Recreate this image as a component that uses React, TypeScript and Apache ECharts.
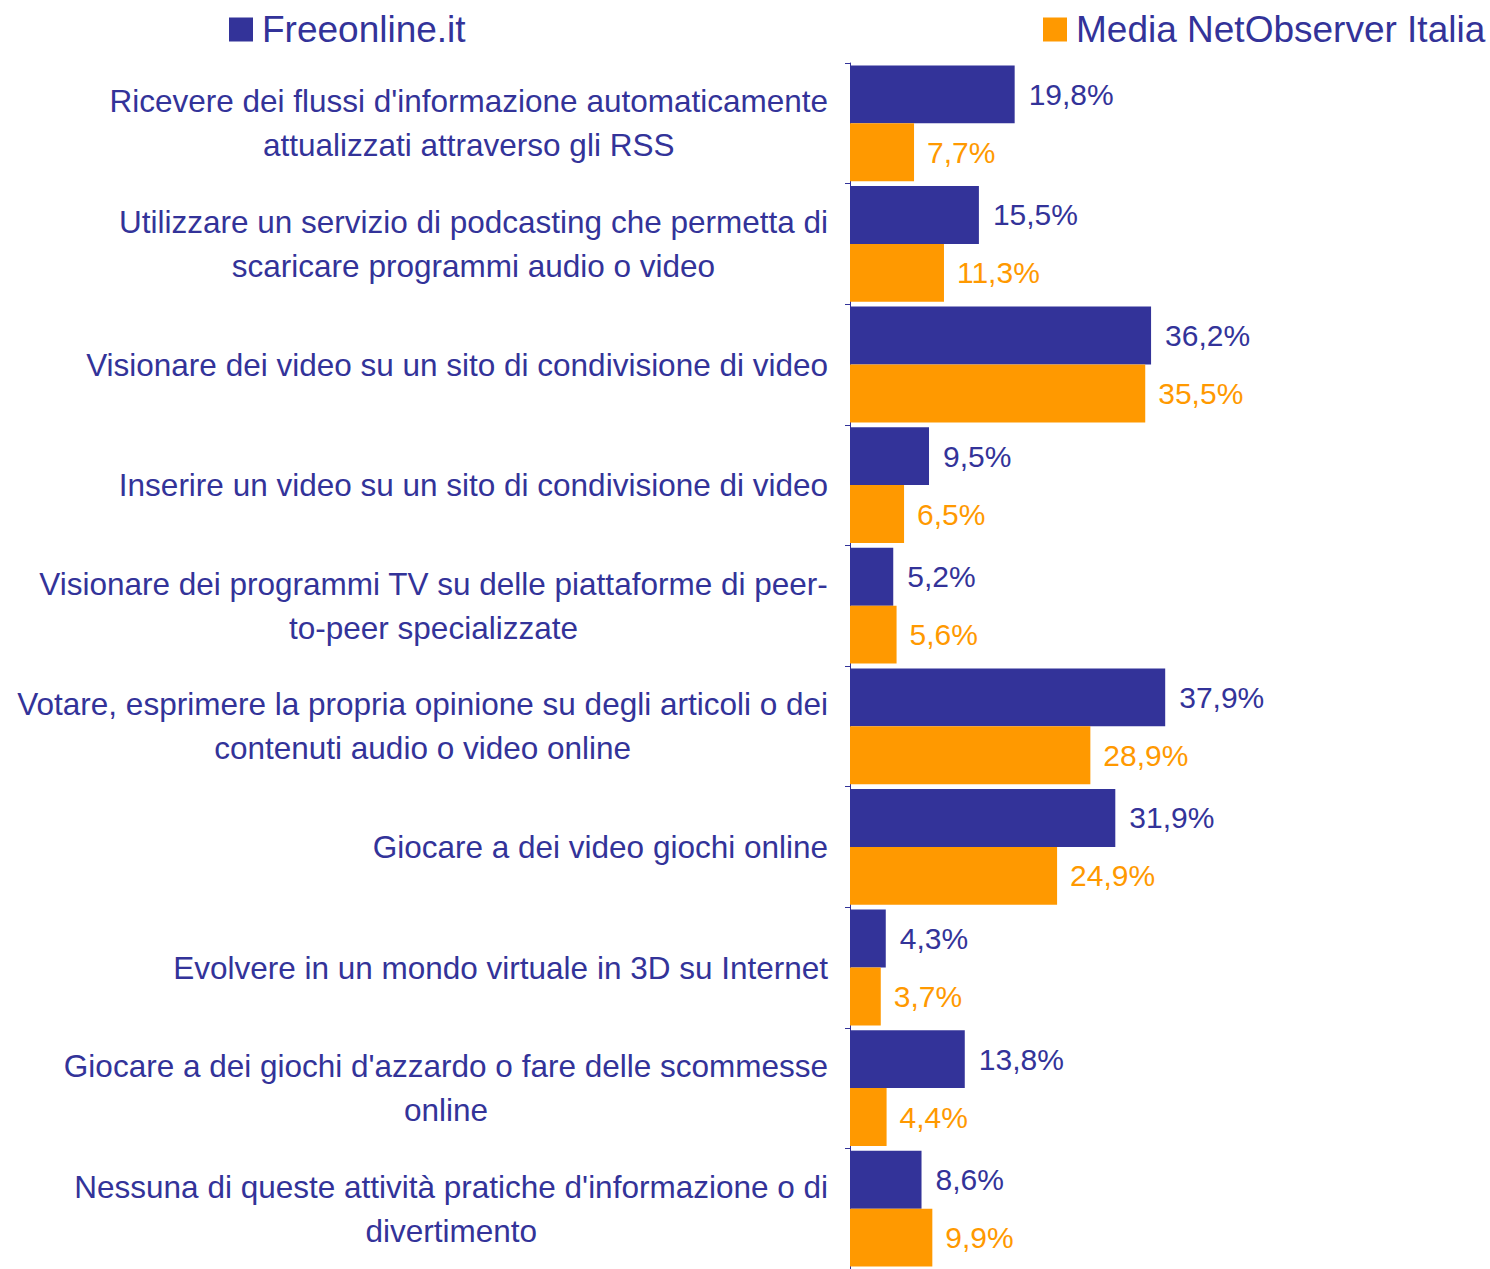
import React, { useEffect, useRef } from "react";
import * as echarts from "echarts";

const categories = [
  "Ricevere dei flussi d'informazione automaticamente\nattualizzati attraverso gli RSS",
  "Utilizzare un servizio di podcasting che permetta di\nscaricare programmi audio o video",
  "Visionare dei video su un sito di condivisione di video",
  "Inserire un video su un sito di condivisione di video",
  "Visionare dei programmi TV su delle piattaforme di peer-\nto-peer specializzate",
  "Votare, esprimere la propria opinione su degli articoli o dei\ncontenuti audio o video online",
  "Giocare a dei video giochi online",
  "Evolvere in un mondo virtuale in 3D su Internet",
  "Giocare a dei giochi d'azzardo o fare delle scommesse\nonline",
  "Nessuna di queste attività pratiche d'informazione o di\ndivertimento",
];

const seriesNames = ["Freeonline.it", "Media NetObserver Italia"];
const freeonline = [19.8, 15.5, 36.2, 9.5, 5.2, 37.9, 31.9, 4.3, 13.8, 8.6];
const netObserver = [7.7, 11.3, 35.5, 6.5, 5.6, 28.9, 24.9, 3.7, 4.4, 9.9];

const BLUE = "#333399";
const ORANGE = "#FF9900";
const FONT = "'Liberation Sans', Arial, sans-serif";

const fmt = (v: number) => v.toFixed(1).replace(".", ",") + "%";

export default function App() {
  const ref = useRef<HTMLDivElement>(null);
  useEffect(() => {
    if (!ref.current) return;
    const chart = echarts.init(ref.current, undefined, { renderer: "svg" });
    const legendText = { color: BLUE, fontSize: 37, fontFamily: FONT, padding: [0, 0, 0, 4] };
    chart.setOption({
      animation: false,
      backgroundColor: "#ffffff",
      textStyle: { fontFamily: FONT },
      legend: [
        {
          data: [seriesNames[0]],
          left: 229,
          top: 11,
          padding: 0,
          itemWidth: 24,
          itemHeight: 24,
          icon: "rect",
          textStyle: legendText,
        },
        {
          data: [seriesNames[1]],
          left: 1043,
          top: 11,
          padding: 0,
          itemWidth: 24,
          itemHeight: 24,
          icon: "rect",
          textStyle: legendText,
        },
      ],
      grid: { left: 850, top: 63, width: 499, height: 1208, containLabel: false },
      xAxis: {
        type: "value",
        min: 0,
        max: 60,
        show: false,
        splitLine: { show: false },
      },
      yAxis: {
        type: "category",
        data: categories,
        inverse: true,
        axisLine: { show: true, lineStyle: { color: BLUE, width: 1 } },
        axisTick: { show: true, length: 5, lineStyle: { color: BLUE } },
        axisLabel: {
          margin: 22,
          formatter: (v: string) =>
            v
              .split("\n")
              .map((l) => "{c|" + l + "}")
              .join("\n"),
          rich: {
            c: {
              align: "center",
              fontSize: 31.5,
              lineHeight: 44,
              color: BLUE,
              fontFamily: FONT,
            },
          },
        },
      },
      series: [
        {
          name: seriesNames[0],
          type: "bar",
          data: freeonline,
          barGap: "0%",
          barCategoryGap: "4%",
          itemStyle: { color: BLUE },
          label: {
            show: true,
            position: "right",
            distance: 14,
            color: BLUE,
            fontSize: 30,
            fontFamily: FONT,
            formatter: (p: any) => fmt(p.value),
          },
        },
        {
          name: seriesNames[1],
          type: "bar",
          data: netObserver,
          barGap: "0%",
          barCategoryGap: "4%",
          itemStyle: { color: ORANGE },
          label: {
            show: true,
            position: "right",
            distance: 13,
            color: ORANGE,
            fontSize: 30,
            fontFamily: FONT,
            formatter: (p: any) => fmt(p.value),
          },
        },
      ],
    });
    return () => chart.dispose();
  }, []);
  return (
    <div
      ref={ref}
      style={{ position: "absolute", left: 0, top: 0, width: 1490, height: 1269, background: "#fff" }}
    />
  );
}
